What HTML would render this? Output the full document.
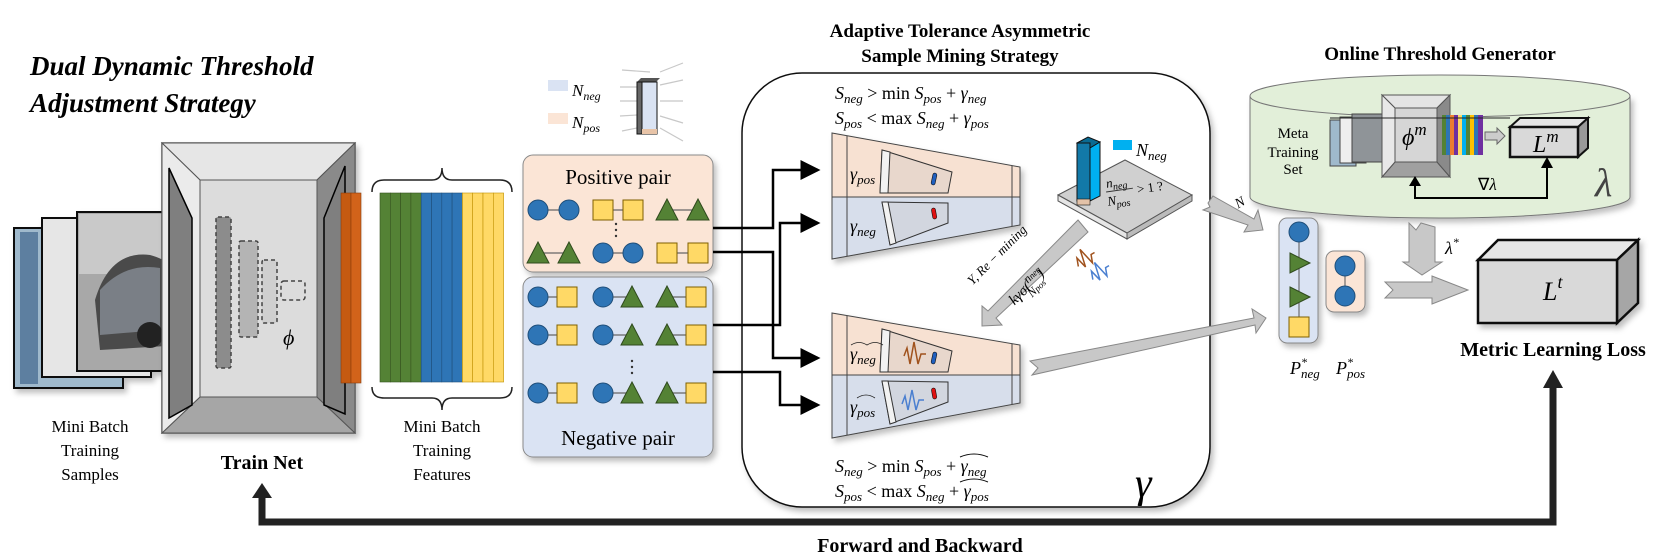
<!DOCTYPE html>
<html><head><meta charset="utf-8">
<style>
html,body{margin:0;padding:0;background:#fff;}
svg{display:block;}
text{font-family:"Liberation Serif",serif;}
.m{font-style:italic;}
</style></head>
<body>
<svg width="1660" height="560" viewBox="0 0 1660 560" xmlns="http://www.w3.org/2000/svg">
<defs>
<marker id="ah" markerWidth="8" markerHeight="8" refX="7" refY="4" orient="auto" markerUnits="strokeWidth"><path d="M0,0 L8,4 L0,8 z" fill="#000"/></marker>
<filter id="sh" x="-10%" y="-10%" width="130%" height="130%"><feDropShadow dx="3" dy="4" stdDeviation="3" flood-color="#000" flood-opacity="0.25"/></filter>
</defs>

<text x="30" y="75" font-size="27" font-weight="bold" font-style="italic">Dual Dynamic Threshold</text>
<text x="30" y="112" font-size="27" font-weight="bold" font-style="italic">Adjustment Strategy</text>

<g filter="url(#sh)">
<rect x="14" y="228" width="109" height="160" fill="#9fb9cc" stroke="#111" stroke-width="2"/>
<rect x="42" y="218" width="109" height="159" fill="#e6e6e6" stroke="#111" stroke-width="2"/>
<rect x="77" y="212" width="108" height="159" fill="#a8a8a8" stroke="#111" stroke-width="2"/>
</g>
<rect x="20" y="232" width="18" height="152" fill="#5d7fa0"/>
<rect x="79" y="214" width="104" height="60" fill="#c9c9c9"/>
<path d="M95,300 Q110,250 150,255 Q178,262 183,290 L183,345 L100,350 Z" fill="#4a4a4a"/>
<path d="M100,290 Q125,262 160,268 L160,330 L100,335 Z" fill="#7a7f86"/>
<circle cx="150" cy="335" r="13" fill="#222"/>

<g filter="url(#sh)">
<rect x="162" y="143" width="193" height="290" fill="#d9d9d9" stroke="#555" stroke-width="1.5"/>
</g>
<polygon points="162,143 355,143 317,180 200,180" fill="#e6e6e6" stroke="#555"/>
<polygon points="162,433 355,433 317,397 200,397" fill="#a6a6a6" stroke="#555"/>
<polygon points="162,143 200,180 200,397 162,433" fill="#ebebeb" stroke="#555"/>
<polygon points="355,143 317,180 317,397 355,433" fill="#8a8a8a" stroke="#555"/>
<rect x="200" y="180" width="117" height="217" fill="#dcdcdc" stroke="#555"/>
<polygon points="169,168 192,218 192,405 169,418" fill="#7f7f7f" stroke="#000" stroke-width="1.5"/>
<polygon points="345,166 324,218 324,405 345,414" fill="#7f7f7f" stroke="#000" stroke-width="1.5"/>
<g stroke="#444" stroke-dasharray="4,3" stroke-width="1.5">
<rect x="216" y="217" width="15" height="151" fill="#8c8c8c" rx="2"/>
<rect x="239" y="241" width="19" height="96" fill="#b4b4b4" rx="2"/>
<rect x="262" y="260" width="15" height="63" fill="#cfcfcf" rx="2"/>
<rect x="281" y="281" width="24" height="19" fill="none" rx="3"/>
</g>
<text x="283" y="345" font-size="22" class="m">ϕ</text>
<rect x="341" y="193" width="10" height="190" fill="#c55a11" stroke="#8a3d0b" stroke-width="0.6"/>
<rect x="351" y="193" width="10" height="190" fill="#d2631a" stroke="#8a3d0b" stroke-width="0.6"/>

<g stroke-width="0.6">
<rect x="380" y="193" width="10.3" height="189" fill="#548235" stroke="#35521f"/>
<rect x="390.3" y="193" width="10.3" height="189" fill="#548235" stroke="#35521f"/>
<rect x="400.6" y="193" width="10.3" height="189" fill="#548235" stroke="#35521f"/>
<rect x="410.9" y="193" width="10.3" height="189" fill="#548235" stroke="#35521f"/>
<rect x="421.2" y="193" width="10.3" height="189" fill="#2e75b6" stroke="#1f4e79"/>
<rect x="431.5" y="193" width="10.3" height="189" fill="#2e75b6" stroke="#1f4e79"/>
<rect x="441.8" y="193" width="10.3" height="189" fill="#2e75b6" stroke="#1f4e79"/>
<rect x="452.1" y="193" width="10.3" height="189" fill="#2e75b6" stroke="#1f4e79"/>
<rect x="462.4" y="193" width="10.3" height="189" fill="#ffd966" stroke="#bf9000"/>
<rect x="472.7" y="193" width="10.3" height="189" fill="#ffd966" stroke="#bf9000"/>
<rect x="483" y="193" width="10.3" height="189" fill="#ffd966" stroke="#bf9000"/>
<rect x="493.3" y="193" width="10.3" height="189" fill="#ffd966" stroke="#bf9000"/>
</g>
<path d="M372,192 Q372,180 384,180 L432,180 Q442,180 442,168 Q442,180 452,180 L500,180 Q512,180 512,192" fill="none" stroke="#222" stroke-width="1.5"/>
<path d="M372,387 Q372,398 384,398 L432,398 Q442,398 442,410 Q442,398 452,398 L500,398 Q512,398 512,387" fill="none" stroke="#222" stroke-width="1.5"/>

<g font-size="17" text-anchor="middle">
<text x="90" y="432">Mini Batch</text><text x="90" y="456">Training</text><text x="90" y="480">Samples</text>
<text x="442" y="432">Mini Batch</text><text x="442" y="456">Training</text><text x="442" y="480">Features</text>
</g>
<text x="262" y="469" font-size="20" font-weight="bold" text-anchor="middle">Train Net</text>

<rect x="548" y="80" width="20" height="11" fill="#dae3f3"/>
<rect x="548" y="113" width="20" height="11" fill="#fbe5d6"/>
<text x="572" y="96" font-size="17" class="m">N<tspan font-size="12" dy="4">neg</tspan></text>
<text x="572" y="128" font-size="17" class="m">N<tspan font-size="12" dy="4">pos</tspan></text>
<g stroke="#c8c8c8" stroke-width="1.2">
<line x1="622" y1="70" x2="650" y2="72"/><line x1="660" y1="72" x2="683" y2="63"/>
<line x1="620" y1="87" x2="637" y2="87"/><line x1="660" y1="85" x2="683" y2="80"/>
<line x1="620" y1="101" x2="637" y2="101"/><line x1="660" y1="101" x2="683" y2="101"/>
<line x1="620" y1="116" x2="637" y2="115"/><line x1="660" y1="116" x2="683" y2="123"/>
<line x1="622" y1="131" x2="637" y2="128"/><line x1="660" y1="128" x2="683" y2="141"/>
</g>
<polygon points="637,82 641,78 660,78 656,82" fill="#555"/>
<rect x="637" y="82" width="5" height="52" fill="#666" stroke="#111"/>
<rect x="642" y="82" width="15" height="52" fill="#dae3f3" stroke="#111"/>
<rect x="642" y="129" width="15" height="5" fill="#e8c4a8"/>

<g filter="url(#sh)">
<rect x="523" y="155" width="190" height="117" rx="10" fill="#fbe5d6" stroke="#8a8a8a"/>
<rect x="523" y="277" width="190" height="180" rx="10" fill="#dae3f3" stroke="#8a8a8a"/>
</g>
<text x="618" y="184" font-size="21" text-anchor="middle">Positive pair</text>
<text x="618" y="445" font-size="21" text-anchor="middle">Negative pair</text>
<g stroke="#666" stroke-width="1.2">
<line x1="538" y1="210" x2="569" y2="210"/><line x1="603" y1="210" x2="633" y2="210"/><line x1="667" y1="210" x2="698" y2="210"/>
<line x1="538" y1="253" x2="569" y2="253"/><line x1="603" y1="253" x2="633" y2="253"/><line x1="667" y1="253" x2="698" y2="253"/>
<line x1="538" y1="297" x2="567" y2="297"/><line x1="603" y1="297" x2="632" y2="297"/><line x1="667" y1="297" x2="696" y2="297"/>
<line x1="538" y1="335" x2="567" y2="335"/><line x1="603" y1="335" x2="632" y2="335"/><line x1="667" y1="335" x2="696" y2="335"/>
<line x1="538" y1="393" x2="567" y2="393"/><line x1="603" y1="393" x2="632" y2="393"/><line x1="667" y1="393" x2="696" y2="393"/>
</g>
<g stroke-width="1">
<circle cx="538" cy="210" r="10" fill="#2e75b6" stroke="#1f4e79"/><circle cx="569" cy="210" r="10" fill="#2e75b6" stroke="#1f4e79"/>
<rect x="593" y="200" width="20" height="20" fill="#ffd966" stroke="#7f6000"/><rect x="623" y="200" width="20" height="20" fill="#ffd966" stroke="#7f6000"/>
<polygon points="667,199 678,220 656,220" fill="#548235" stroke="#2f4a1d"/><polygon points="698,199 709,220 687,220" fill="#548235" stroke="#2f4a1d"/>
<polygon points="538,242 549,263 527,263" fill="#548235" stroke="#2f4a1d"/><polygon points="569,242 580,263 558,263" fill="#548235" stroke="#2f4a1d"/>
<circle cx="603" cy="253" r="10" fill="#2e75b6" stroke="#1f4e79"/><circle cx="633" cy="253" r="10" fill="#2e75b6" stroke="#1f4e79"/>
<rect x="657" y="243" width="20" height="20" fill="#ffd966" stroke="#7f6000"/><rect x="688" y="243" width="20" height="20" fill="#ffd966" stroke="#7f6000"/>
<circle cx="538" cy="297" r="10" fill="#2e75b6" stroke="#1f4e79"/><rect x="557" y="287" width="20" height="20" fill="#ffd966" stroke="#7f6000"/>
<circle cx="603" cy="297" r="10" fill="#2e75b6" stroke="#1f4e79"/><polygon points="632,286 643,307 621,307" fill="#548235" stroke="#2f4a1d"/>
<polygon points="667,286 678,307 656,307" fill="#548235" stroke="#2f4a1d"/><rect x="686" y="287" width="20" height="20" fill="#ffd966" stroke="#7f6000"/>
<circle cx="538" cy="335" r="10" fill="#2e75b6" stroke="#1f4e79"/><rect x="557" y="325" width="20" height="20" fill="#ffd966" stroke="#7f6000"/>
<circle cx="603" cy="335" r="10" fill="#2e75b6" stroke="#1f4e79"/><polygon points="632,324 643,345 621,345" fill="#548235" stroke="#2f4a1d"/>
<polygon points="667,324 678,345 656,345" fill="#548235" stroke="#2f4a1d"/><rect x="686" y="325" width="20" height="20" fill="#ffd966" stroke="#7f6000"/>
<circle cx="538" cy="393" r="10" fill="#2e75b6" stroke="#1f4e79"/><rect x="557" y="383" width="20" height="20" fill="#ffd966" stroke="#7f6000"/>
<circle cx="603" cy="393" r="10" fill="#2e75b6" stroke="#1f4e79"/><polygon points="632,382 643,403 621,403" fill="#548235" stroke="#2f4a1d"/>
<polygon points="667,382 678,403 656,403" fill="#548235" stroke="#2f4a1d"/><rect x="686" y="383" width="20" height="20" fill="#ffd966" stroke="#7f6000"/>
</g>
<g fill="#333"><circle cx="616" cy="224" r="1.2"/><circle cx="616" cy="230" r="1.2"/><circle cx="616" cy="236" r="1.2"/>
<circle cx="632" cy="361" r="1.2"/><circle cx="632" cy="367" r="1.2"/><circle cx="632" cy="373" r="1.2"/></g>

<text x="960" y="37" font-size="19" font-weight="bold" text-anchor="middle">Adaptive Tolerance Asymmetric</text>
<text x="960" y="62" font-size="19" font-weight="bold" text-anchor="middle">Sample Mining Strategy</text>

<g filter="url(#sh)"><rect x="742" y="73" width="468" height="434" rx="60" fill="#fff" stroke="#111" stroke-width="1.5"/></g>

<g font-size="18">
<text x="835" y="99"><tspan class="m">S</tspan><tspan class="m" font-size="13" dy="4">neg</tspan><tspan dy="-4"> &gt; min </tspan><tspan class="m">S</tspan><tspan class="m" font-size="13" dy="4">pos</tspan><tspan dy="-4"> + </tspan><tspan class="m">γ</tspan><tspan class="m" font-size="13" dy="4">neg</tspan></text>
<text x="835" y="124"><tspan class="m">S</tspan><tspan class="m" font-size="13" dy="4">pos</tspan><tspan dy="-4"> &lt; max </tspan><tspan class="m">S</tspan><tspan class="m" font-size="13" dy="4">neg</tspan><tspan dy="-4"> + </tspan><tspan class="m">γ</tspan><tspan class="m" font-size="13" dy="4">pos</tspan></text>
<text x="835" y="472"><tspan class="m">S</tspan><tspan class="m" font-size="13" dy="4">neg</tspan><tspan dy="-4"> &gt; min </tspan><tspan class="m">S</tspan><tspan class="m" font-size="13" dy="4">pos</tspan><tspan dy="-4"> + </tspan><tspan class="m">γ</tspan><tspan class="m" font-size="13" dy="4">neg</tspan></text>
<text x="835" y="497"><tspan class="m">S</tspan><tspan class="m" font-size="13" dy="4">pos</tspan><tspan dy="-4"> &lt; max </tspan><tspan class="m">S</tspan><tspan class="m" font-size="13" dy="4">neg</tspan><tspan dy="-4"> + </tspan><tspan class="m">γ</tspan><tspan class="m" font-size="13" dy="4">pos</tspan></text>
</g>
<path d="M960,457 q14,-6 28,0 M960,482 q14,-6 28,0" stroke="#111" fill="none" stroke-width="1"/>

<g filter="url(#sh)">
<polygon points="832,133 1020,167 1020,197 832,197" fill="#f7e1d2" stroke="#444"/>
<polygon points="832,197 1020,197 1020,225 832,259" fill="#d7deeb" stroke="#444"/>
</g>
<line x1="847" y1="136" x2="847" y2="256" stroke="#444"/><line x1="1012" y1="166" x2="1012" y2="226" stroke="#444"/>
<polygon points="882,150 952,172 948,193 880,193" fill="#e8d7cc" stroke="#333"/>
<polygon points="882,150 890,152 888,193 880,193" fill="#f2f2f2" stroke="#333"/>
<polygon points="882,202 948,203 948,223 890,245" fill="#d2d6df" stroke="#333"/>
<polygon points="882,202 888,202 896,243 890,245" fill="#f2f2f2" stroke="#333"/>
<rect x="932" y="173" width="4" height="12" rx="2" fill="#1f5fbf" stroke="#111" stroke-width="0.6" transform="rotate(12 934 179)"/>
<rect x="932" y="208" width="4" height="11" rx="2" fill="#e01010" stroke="#111" stroke-width="0.6" transform="rotate(-10 934 213)"/>
<text x="850" y="180" font-size="18" class="m">γ<tspan font-size="13" dy="4">pos</tspan></text>
<text x="850" y="232" font-size="18" class="m">γ<tspan font-size="13" dy="4">neg</tspan></text>

<g filter="url(#sh)">
<polygon points="832,313 1020,345 1020,375 832,375" fill="#f7e1d2" stroke="#444"/>
<polygon points="832,375 1020,375 1020,403 832,438" fill="#d7deeb" stroke="#444"/>
</g>
<line x1="847" y1="316" x2="847" y2="435" stroke="#444"/><line x1="1012" y1="344" x2="1012" y2="404" stroke="#444"/>
<polygon points="882,329 952,351 948,372 880,372" fill="#e8d7cc" stroke="#333"/>
<polygon points="882,329 890,331 888,372 880,372" fill="#f2f2f2" stroke="#333"/>
<polygon points="882,381 948,382 948,402 890,424" fill="#d2d6df" stroke="#333"/>
<polygon points="882,381 888,381 896,422 890,424" fill="#f2f2f2" stroke="#333"/>
<rect x="932" y="352" width="4" height="12" rx="2" fill="#1f5fbf" stroke="#111" stroke-width="0.6" transform="rotate(12 934 358)"/>
<rect x="932" y="388" width="4" height="11" rx="2" fill="#e01010" stroke="#111" stroke-width="0.6" transform="rotate(-10 934 393)"/>
<path d="M904,356 l3,-8 l3,16 l4,-22 l4,22 l3,-10 l5,0" fill="none" stroke="#a0521d" stroke-width="1.5"/>
<path d="M902,404 l3,-8 l3,14 l4,-20 l4,20 l3,-10 l5,0" fill="none" stroke="#4a7fd0" stroke-width="1.5"/>
<text x="850" y="360" font-size="18" class="m">γ<tspan font-size="13" dy="4">neg</tspan></text>
<path d="M851,345 q8,-5 16,0 q8,-5 16,0" fill="none" stroke="#222" stroke-width="0.8"/>
<text x="850" y="413" font-size="18" class="m">γ<tspan font-size="13" dy="4">pos</tspan></text>
<path d="M857,398 q9,-6 18,0" fill="none" stroke="#222" stroke-width="0.8"/>

<g stroke="#000" stroke-width="2.5" fill="none">
<polyline points="713,228 773,228 773,170 818,170" marker-end="url(#ah)"/>
<polyline points="713,252 773,252 773,358 818,358" marker-end="url(#ah)"/>
<polyline points="713,325 780,325 780,223 818,223" marker-end="url(#ah)"/>
<polyline points="713,372 780,372 780,405 818,405" marker-end="url(#ah)"/>
</g>

<polygon points="1058,195 1125,160 1192,195 1127,233" fill="#d0d0d0" stroke="#555"/>
<polygon points="1058,195 1127,233 1127,239 1058,201" fill="#e6e6e6" stroke="#555"/>
<polygon points="1127,233 1192,195 1192,201 1127,239" fill="#bbb" stroke="#555"/>
<polygon points="1077,143 1088,137 1100,142 1090,148" fill="#0a6a92" stroke="#111"/>
<rect x="1077" y="143" width="13" height="58" fill="#1279a8" stroke="#111"/>
<polygon points="1090,148 1100,142 1100,196 1090,201" fill="#00b0f0" stroke="#111"/>
<rect x="1077" y="199" width="13" height="6" fill="#e3c2a8" stroke="#111" stroke-width="0.6"/>
<rect x="1113" y="140" width="19" height="10" fill="#00b0f0"/>
<text x="1136" y="156" font-size="18" class="m">N<tspan font-size="13" dy="4">neg</tspan></text>
<g transform="rotate(-8 1120 190)" font-size="13" class="m">
<text x="1107" y="186">n<tspan font-size="10" dy="3">neg</tspan></text>
<line x1="1106" y1="190" x2="1133" y2="190" stroke="#333"/>
<text x="1106" y="204">N<tspan font-size="10" dy="3">pos</tspan></text>
<text x="1137" y="196" font-style="normal">&gt; 1 ?</text>
</g>

<polygon points="1078,220 1088,232 996,318 1002,325 982,326 982,306 988,311" fill="#c8c8c8" stroke="#888"/>
<g transform="translate(1000,258) rotate(-45)"><text x="0" y="0" font-size="13" class="m" text-anchor="middle">Y, Re − mining</text></g>
<g transform="translate(1030,290) rotate(-45)"><text x="0" y="0" font-size="15" class="m" text-anchor="middle">kγσ(<tspan font-size="12" dy="-6">n</tspan><tspan font-size="9">neg</tspan><tspan font-size="12" dx="-26" dy="13">N</tspan><tspan font-size="9">pos</tspan><tspan font-size="15" dy="-7">)</tspan></text></g>
<path d="M1075,262 l3,-8 l3,12 l4,-18 l4,18 l3,-8 l4,0" fill="none" stroke="#a0521d" stroke-width="1.5" transform="rotate(-30 1085 258)"/>
<path d="M1090,275 l3,-8 l3,12 l4,-18 l4,18 l3,-8 l4,0" fill="none" stroke="#4a7fd0" stroke-width="1.5" transform="rotate(-30 1100 272)"/>

<polygon points="1030,361 1254,318 1252,309 1266,318 1256,333 1255,325 1032,375 1038,368" fill="#c8c8c8" stroke="#888"/>

<text x="1135" y="497" font-size="42" class="m">γ</text>

<text x="1440" y="60" font-size="19" font-weight="bold" text-anchor="middle">Online Threshold Generator</text>
<g filter="url(#sh)">
<path d="M1250,96 L1250,197 A190,21 0 0 0 1630,197 L1630,96" fill="#e2efd9" stroke="#777"/>
</g>
<ellipse cx="1440" cy="96" rx="190" ry="21" fill="#e2efd9" stroke="#777"/>
<g font-size="15" text-anchor="middle"><text x="1293" y="138">Meta</text><text x="1293" y="157">Training</text><text x="1293" y="174">Set</text></g>
<rect x="1330" y="120" width="26" height="46" fill="#9fb9cc" stroke="#444"/>
<rect x="1340" y="117" width="26" height="46" fill="#eee" stroke="#444"/>
<rect x="1352" y="114" width="34" height="48" fill="#8f9498" stroke="#444"/>
<rect x="1382" y="95" width="68" height="82" fill="#d0d0d0" stroke="#444"/>
<polygon points="1382,95 1450,95 1437,108 1395,108" fill="#e4e4e4" stroke="#555"/>
<polygon points="1382,177 1450,177 1437,162 1395,162" fill="#a0a0a0" stroke="#555"/>
<polygon points="1382,95 1395,108 1395,162 1382,177" fill="#e8e8e8" stroke="#555"/>
<polygon points="1450,95 1437,108 1437,162 1450,177" fill="#8a8a8a" stroke="#555"/>
<rect x="1395" y="108" width="42" height="54" fill="#d6d6d6" stroke="#555"/>
<text x="1402" y="145" font-size="24" class="m">ϕ<tspan font-size="17" dy="-10">m</tspan></text>
<g>
<rect x="1442" y="115" width="4" height="40" fill="#548235"/><rect x="1446" y="115" width="4" height="40" fill="#2e75b6"/>
<rect x="1450" y="115" width="4" height="40" fill="#ed7d31"/><rect x="1454" y="115" width="4" height="40" fill="#7030a0"/>
<rect x="1458" y="115" width="4" height="40" fill="#ffd966"/><rect x="1462" y="115" width="4" height="40" fill="#00b0f0"/>
<rect x="1466" y="115" width="4" height="40" fill="#548235"/><rect x="1470" y="115" width="4" height="40" fill="#ffc000"/>
<rect x="1474" y="115" width="4" height="40" fill="#2e75b6"/><rect x="1478" y="115" width="5" height="40" fill="#7030a0"/>
</g>
<line x1="1330" y1="118" x2="1510" y2="118" stroke="#222" stroke-width="1"/>
<polygon points="1485,132 1497,132 1497,128 1505,136 1497,144 1497,140 1485,140" fill="#ccc" stroke="#666"/>
<polygon points="1510,127 1520,118 1588,118 1578,127" fill="#e6e6e6" stroke="#111" stroke-width="2"/>
<polygon points="1578,127 1588,118 1588,148 1578,157" fill="#999" stroke="#111" stroke-width="2"/>
<rect x="1510" y="127" width="68" height="30" fill="#d9d9d9" stroke="#111" stroke-width="2.5"/>
<text x="1533" y="152" font-size="24" class="m">L<tspan font-size="17" dy="-10">m</tspan></text>
<polyline points="1415,182 1415,198 1547,198 1547,162" fill="none" stroke="#000" stroke-width="2"/>
<polygon points="1409,186 1415,176 1421,186" fill="#000"/>
<polygon points="1541,168 1547,157 1553,168" fill="#000"/>
<text x="1478" y="190" font-size="17">∇<tspan class="m">λ</tspan></text>
<text x="1595" y="196" font-size="40" class="m" fill="#444">λ</text>

<polygon points="1208,203 1213,196 1254,219 1258,210 1263,230 1244,232 1248,225 1203,210 1210,207" fill="#c8c8c8" stroke="#888"/>
<text x="1236" y="207" font-size="14" class="m" transform="rotate(-30 1240 204)">N</text>

<g filter="url(#sh)">
<rect x="1279" y="218" width="39" height="125" rx="8" fill="#dae3f3" stroke="#888"/>
<rect x="1326" y="251" width="39" height="61" rx="8" fill="#fbe5d6" stroke="#888"/>
</g>
<line x1="1299" y1="232" x2="1299" y2="327" stroke="#555"/>
<line x1="1345" y1="265" x2="1345" y2="297" stroke="#555"/>
<circle cx="1299" cy="232" r="10" fill="#2e75b6" stroke="#1f4e79"/>
<polygon points="1290,253 1310,263 1290,273" fill="#548235" stroke="#2f4a1d"/>
<polygon points="1290,287 1310,297 1290,307" fill="#548235" stroke="#2f4a1d"/>
<rect x="1289" y="317" width="20" height="20" fill="#ffd966" stroke="#7f6000"/>
<circle cx="1345" cy="266" r="10" fill="#2e75b6" stroke="#1f4e79"/>
<circle cx="1345" cy="296" r="10" fill="#2e75b6" stroke="#1f4e79"/>
<text x="1290" y="374" font-size="18" class="m">P<tspan font-size="12" dy="-8">*</tspan><tspan font-size="13" dx="-6" dy="12">neg</tspan></text>
<text x="1336" y="374" font-size="18" class="m">P<tspan font-size="12" dy="-8">*</tspan><tspan font-size="13" dx="-6" dy="12">pos</tspan></text>

<polygon points="1409,223 1416,230 1421,223 1435,227 1435,262 1442,262 1422,275 1403,262 1409,262" fill="#c8c8c8" stroke="#888"/>
<polygon points="1385,282 1432,282 1432,276 1468,290 1432,304 1432,298 1385,298 1393,290" fill="#c8c8c8" stroke="#888"/>
<text x="1445" y="254" font-size="18" class="m">λ<tspan font-size="12" dy="-8">*</tspan></text>

<g filter="url(#sh)">
<polygon points="1478,260 1498,240 1638,240 1617,260" fill="#e6e6e6" stroke="#111" stroke-width="2.5"/>
<polygon points="1617,260 1638,240 1638,303 1617,323" fill="#a6a6a6" stroke="#111" stroke-width="2.5"/>
<rect x="1478" y="260" width="139" height="63" fill="#d9d9d9" stroke="#111" stroke-width="2.5"/>
</g>
<text x="1543" y="300" font-size="26" class="m">L<tspan font-size="18" dy="-12">t</tspan></text>
<text x="1553" y="356" font-size="20" font-weight="bold" text-anchor="middle">Metric Learning Loss</text>

<polyline points="262,496 262,522 1553,522 1553,385" fill="none" stroke="#222" stroke-width="7"/>
<polygon points="252,498 262,483 272,498" fill="#222"/>
<polygon points="1543,388 1553,370 1563,388" fill="#222"/>
<text x="920" y="552" font-size="20" font-weight="bold" text-anchor="middle">Forward and Backward</text>
</svg>
</body></html>
